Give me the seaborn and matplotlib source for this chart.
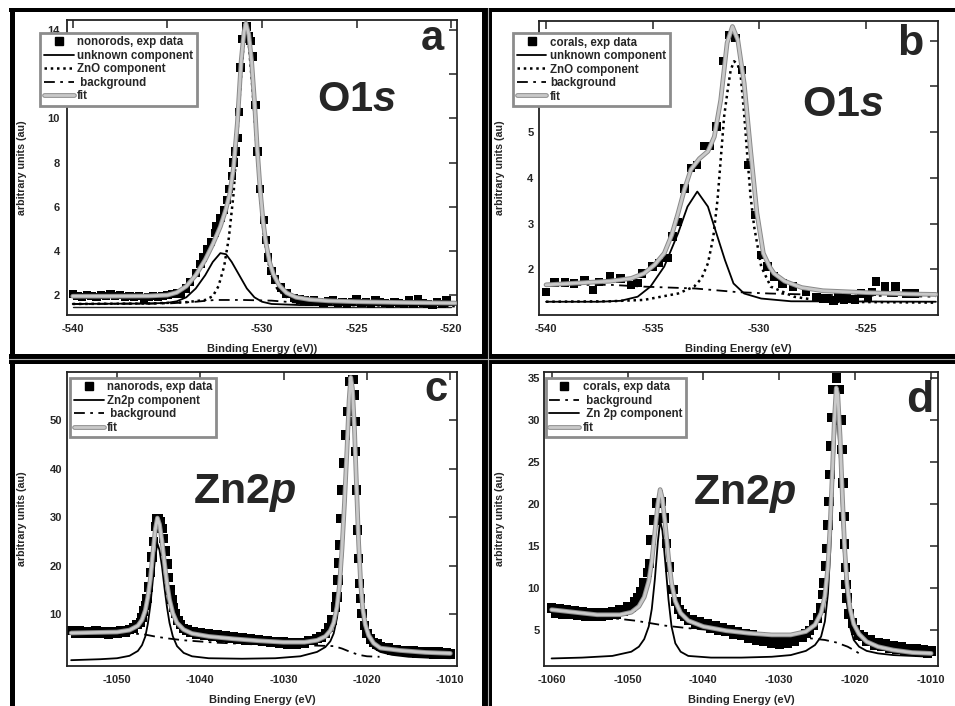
import matplotlib
matplotlib.use("Agg")
import matplotlib.pyplot as plt
from matplotlib.lines import Line2D
import matplotlib.patheffects as pe
import seaborn as sns

# ---------------- DATA ----------------
# Panel a: O1s, nanorods
a_exp = [(-540.0, 2.05), (-539.75, 1.95), (-539.5, 1.9), (-539.25, 2.0), (-539.0, 1.95), (-538.75, 1.9),
         (-538.5, 2.0), (-538.25, 1.95), (-538.0, 2.05), (-537.75, 1.95), (-537.5, 2.0), (-537.25, 1.9),
         (-537.0, 1.95), (-536.75, 1.9), (-536.5, 1.95), (-536.25, 1.85), (-536.0, 1.9), (-535.75, 1.95),
         (-535.5, 1.9), (-535.25, 1.95), (-535.0, 2.0), (-534.75, 2.05), (-534.5, 2.1), (-534.3, 2.08),
         (-534.0, 2.3), (-533.8, 2.6), (-533.5, 3.0), (-533.25, 3.4), (-533.1, 3.7), (-532.9, 4.1),
         (-532.7, 4.4), (-532.5, 4.8), (-532.4, 5.1), (-532.2, 5.5), (-532.0, 5.85), (-531.85, 6.3),
         (-531.75, 6.8), (-531.6, 7.4), (-531.5, 8.0), (-531.4, 8.5), (-531.28, 9.1), (-531.2, 10.3),
         (-531.14, 12.3), (-531.05, 13.6), (-530.82, 14.15), (-530.7, 13.7), (-530.6, 13.5), (-530.47, 12.8),
         (-530.35, 10.6), (-530.23, 8.5), (-530.1, 6.8), (-529.9, 5.4), (-529.8, 4.5), (-529.7, 3.7),
         (-529.5, 3.1), (-529.3, 2.7), (-529.0, 2.35), (-528.7, 2.08), (-528.3, 1.88), (-528.0, 1.8),
         (-527.75, 1.75), (-527.5, 1.7), (-527.25, 1.75), (-527.0, 1.7), (-526.75, 1.65), (-526.5, 1.72),
         (-526.25, 1.78), (-526.0, 1.65), (-525.75, 1.7), (-525.5, 1.6), (-525.25, 1.7), (-525.0, 1.8),
         (-524.75, 1.65), (-524.5, 1.7), (-524.25, 1.6), (-524.0, 1.75), (-523.75, 1.7), (-523.5, 1.65),
         (-523.25, 1.6), (-523.0, 1.7), (-522.75, 1.65), (-522.5, 1.6), (-522.25, 1.75), (-522.0, 1.6),
         (-521.75, 1.8), (-521.5, 1.65), (-521.25, 1.6), (-521.0, 1.55), (-520.75, 1.7), (-520.5, 1.6),
         (-520.25, 1.75)]
a_unknown = [(-540.0, 1.6), (-536.0, 1.62), (-535.0, 1.65), (-534.5, 1.72), (-534.0, 1.9), (-533.5, 2.3),
             (-533.0, 2.9), (-532.6, 3.5), (-532.2, 3.9), (-531.9, 3.85), (-531.6, 3.5), (-531.2, 2.9),
             (-530.8, 2.3), (-530.4, 1.9), (-530.0, 1.7), (-529.5, 1.6), (-528.0, 1.55), (-519.8, 1.55)]
a_zno = [(-540.0, 1.6), (-536.0, 1.62), (-534.0, 1.68), (-533.0, 1.78), (-532.6, 1.95), (-532.3, 2.4),
         (-532.0, 3.3), (-531.75, 4.6), (-531.5, 6.6), (-531.3, 9.3), (-531.1, 12.0), (-530.95, 13.6),
         (-530.85, 14.1), (-530.7, 13.4), (-530.5, 11.3), (-530.3, 8.9), (-530.1, 6.5), (-529.9, 4.7),
         (-529.7, 3.6), (-529.5, 2.9), (-529.2, 2.3), (-528.8, 1.95), (-528.3, 1.75), (-527.5, 1.62),
         (-526.0, 1.55), (-519.8, 1.5)]
a_background = [(-540.0, 1.6), (-535.0, 1.62), (-533.5, 1.7), (-532.5, 1.78), (-531.0, 1.78),
                (-529.5, 1.75), (-528.0, 1.65), (-525.0, 1.6), (-519.8, 1.6)]
a_fit = [(-540.0, 1.95), (-538.0, 1.95), (-536.0, 1.96), (-535.0, 2.0), (-534.5, 2.12), (-534.0, 2.4),
         (-533.5, 2.9), (-533.0, 3.6), (-532.6, 4.3), (-532.2, 5.1), (-531.9, 5.9), (-531.7, 6.6),
         (-531.5, 7.8), (-531.3, 9.8), (-531.1, 12.6), (-530.95, 13.9), (-530.85, 14.3), (-530.7, 13.8),
         (-530.55, 12.6), (-530.4, 10.8), (-530.25, 8.6), (-530.1, 6.8), (-529.95, 5.4), (-529.8, 4.4),
         (-529.6, 3.5), (-529.4, 2.95), (-529.1, 2.45), (-528.7, 2.1), (-528.2, 1.9), (-527.5, 1.8),
         (-526.5, 1.74), (-525.0, 1.7), (-523.0, 1.67), (-521.0, 1.65), (-519.8, 1.64)]

# Panel b: O1s, corals
b_exp = [(-540.0, 1.51), (-539.6, 1.71), (-539.1, 1.71), (-538.7, 1.69), (-538.2, 1.77), (-537.8, 1.55),
         (-537.5, 1.72), (-537.0, 1.84), (-536.5, 1.80), (-536.0, 1.66), (-535.7, 1.7), (-535.5, 1.91),
         (-535.0, 2.06), (-534.7, 2.13), (-534.3, 2.24), (-534.06, 2.72), (-533.8, 3.04), (-533.5, 3.77),
         (-533.2, 4.21), (-532.9, 4.28), (-532.6, 4.69), (-532.3, 4.69), (-532.0, 5.12), (-531.7, 6.55),
         (-531.4, 7.13), (-531.1, 7.06), (-530.8, 6.36), (-530.5, 4.28), (-530.2, 3.19), (-529.9, 2.31),
         (-529.6, 2.06), (-529.3, 1.84), (-528.9, 1.69), (-528.4, 1.62), (-527.8, 1.51), (-527.3, 1.40),
         (-527.0, 1.36), (-526.8, 1.36), (-526.5, 1.32), (-526.3, 1.40), (-526.0, 1.33), (-525.9, 1.36),
         (-525.5, 1.34), (-525.2, 1.47), (-524.9, 1.38), (-524.7, 1.51), (-524.5, 1.73), (-524.1, 1.62),
         (-523.6, 1.62), (-523.1, 1.47), (-522.7, 1.47)]
b_unknown = [(-540.0, 1.29), (-537.5, 1.29), (-536.5, 1.31), (-535.7, 1.40), (-535.1, 1.62), (-534.45, 2.06),
             (-533.8, 2.79), (-533.36, 3.37), (-532.9, 3.70), (-532.4, 3.37), (-532.1, 2.93), (-531.6, 2.2),
             (-531.2, 1.69), (-530.7, 1.47), (-529.9, 1.36), (-528.5, 1.3), (-521.7, 1.29)]
b_zno = [(-540.0, 1.29), (-537.0, 1.3), (-535.4, 1.33), (-533.8, 1.47), (-533.05, 1.62), (-532.7, 1.8),
         (-532.4, 2.13), (-532.15, 2.7), (-531.95, 3.52), (-531.8, 4.4), (-531.64, 5.34), (-531.45, 6.0),
         (-531.33, 6.36), (-531.17, 6.55), (-531.0, 6.48), (-530.86, 6.22), (-530.7, 5.4), (-530.55, 4.47),
         (-530.4, 3.6), (-530.23, 2.93), (-529.9, 2.06), (-529.45, 1.62), (-528.36, 1.40), (-526.8, 1.29),
         (-521.7, 1.27)]
b_background = [(-540.0, 1.66), (-537.0, 1.66), (-535.4, 1.62), (-533.0, 1.58), (-531.0, 1.5),
                (-529.5, 1.47), (-527.0, 1.44), (-521.7, 1.4)]
b_fit = [(-540.0, 1.66), (-538.5, 1.7), (-537.0, 1.74), (-536.0, 1.8), (-535.4, 1.91), (-534.9, 2.1),
         (-534.45, 2.35), (-534.1, 2.75), (-533.8, 3.23), (-533.5, 3.75), (-533.2, 4.18), (-532.8, 4.42),
         (-532.4, 4.58), (-532.1, 4.9), (-531.8, 5.7), (-531.5, 6.95), (-531.25, 7.31), (-531.0, 7.02),
         (-530.7, 6.07), (-530.4, 4.61), (-530.1, 3.23), (-529.8, 2.35), (-529.5, 2.05), (-529.3, 1.91),
         (-528.8, 1.74), (-528.0, 1.6), (-527.0, 1.53), (-525.0, 1.49), (-523.0, 1.46), (-521.7, 1.45)]

# Panel c: Zn2p, nanorods
c_exp = [(-1055.5, 6.6), (-1055.0, 6.1), (-1054.5, 6.5), (-1054.0, 6.0), (-1053.5, 6.4), (-1053.0, 6.0),
         (-1052.5, 6.5), (-1052.0, 6.1), (-1051.5, 6.4), (-1051.0, 5.9), (-1050.5, 6.4), (-1050.0, 6.0),
         (-1049.5, 6.5), (-1049.0, 6.2), (-1048.5, 6.8), (-1048.0, 7.1), (-1047.6, 7.8), (-1047.2, 8.3),
         (-1047.0, 9.3), (-1046.8, 10.6), (-1046.6, 11.8), (-1046.4, 13.2), (-1046.2, 15.6), (-1046.0, 18.6),
         (-1045.8, 21.8), (-1045.6, 25.0), (-1045.4, 28.0), (-1045.2, 29.6), (-1045.0, 29.6), (-1044.8, 29.0),
         (-1044.6, 27.6), (-1044.4, 25.6), (-1044.2, 23.0), (-1044.0, 20.3), (-1043.8, 17.5), (-1043.6, 15.0),
         (-1043.4, 13.0), (-1043.2, 11.4), (-1043.0, 10.1), (-1042.7, 8.7), (-1042.4, 7.9), (-1042.0, 7.0),
         (-1041.6, 6.7), (-1041.2, 6.2), (-1040.8, 6.4), (-1040.4, 5.9), (-1040.0, 6.2), (-1039.5, 5.7),
         (-1039.0, 6.0), (-1038.5, 5.5), (-1038.0, 5.8), (-1037.5, 5.3), (-1037.0, 5.6), (-1036.5, 5.1),
         (-1036.0, 5.4), (-1035.5, 4.9), (-1035.0, 5.2), (-1034.5, 4.7), (-1034.0, 5.0), (-1033.5, 4.5),
         (-1033.0, 4.8), (-1032.5, 4.3), (-1032.0, 4.6), (-1031.5, 4.1), (-1031.0, 4.4), (-1030.5, 3.9),
         (-1030.0, 4.3), (-1029.5, 3.8), (-1029.0, 4.2), (-1028.5, 3.8), (-1028.0, 4.2), (-1027.5, 4.0),
         (-1027.0, 4.5), (-1026.5, 4.5), (-1026.0, 5.0), (-1025.5, 5.3), (-1025.0, 6.0), (-1024.6, 7.2),
         (-1024.2, 8.8), (-1023.8, 11.5), (-1023.6, 13.5), (-1023.5, 17.0), (-1023.4, 20.5), (-1023.3, 24.2),
         (-1023.15, 29.7), (-1023.0, 35.6), (-1022.8, 41.1), (-1022.55, 46.9), (-1022.35, 51.7), (-1022.1, 58.0),
         (-1021.7, 58.3), (-1021.55, 55.2), (-1021.45, 49.7), (-1021.35, 43.5), (-1021.25, 35.6), (-1021.15, 27.3),
         (-1021.05, 21.5), (-1020.9, 16.3), (-1020.8, 13.2), (-1020.6, 10.1), (-1020.3, 7.6), (-1020.0, 6.0),
         (-1019.6, 4.9), (-1019.2, 4.1), (-1018.8, 3.8), (-1018.4, 3.3), (-1018.0, 3.1), (-1017.5, 3.0),
         (-1017.0, 2.6), (-1016.5, 2.7), (-1016.0, 2.3), (-1015.5, 2.5), (-1015.0, 2.1), (-1014.5, 2.4),
         (-1014.0, 2.0), (-1013.5, 2.3), (-1013.0, 1.9), (-1012.5, 2.2), (-1012.0, 1.8), (-1011.5, 2.2),
         (-1011.0, 1.8), (-1010.5, 2.1), (-1010.0, 1.8)]
c_zn2p = [(-1055.5, 0.5), (-1052.0, 0.7), (-1050.0, 0.9), (-1048.5, 1.4), (-1047.5, 2.4), (-1047.0, 3.6),
          (-1046.6, 5.4), (-1046.3, 8.0), (-1046.0, 11.8), (-1045.7, 17.0), (-1045.4, 22.0), (-1045.15, 24.5),
          (-1044.9, 23.2), (-1044.6, 19.8), (-1044.3, 15.4), (-1044.0, 11.4), (-1043.7, 8.2), (-1043.3, 5.4),
          (-1042.8, 3.4), (-1042.0, 2.0), (-1041.0, 1.3), (-1039.0, 0.9), (-1035.0, 0.8), (-1031.0, 0.9),
          (-1028.0, 1.3), (-1026.0, 2.2), (-1025.0, 3.2), (-1024.4, 4.4), (-1024.0, 6.0), (-1023.6, 9.2),
          (-1023.3, 13.6), (-1023.0, 21.0), (-1022.7, 30.5), (-1022.4, 41.5), (-1022.15, 51.5), (-1021.95, 56.3),
          (-1021.75, 54.0), (-1021.5, 45.5), (-1021.25, 33.5), (-1021.0, 22.0), (-1020.75, 13.6), (-1020.5, 8.8),
          (-1020.2, 6.0), (-1019.8, 4.2), (-1019.2, 3.0), (-1018.4, 2.2), (-1017.0, 1.6), (-1015.0, 1.2),
          (-1012.5, 1.0), (-1010.0, 0.9)]
c_background = [(-1055.5, 6.0), (-1050.0, 6.0), (-1047.0, 5.9), (-1045.5, 5.4), (-1044.0, 5.0),
                (-1042.0, 4.6), (-1038.0, 4.1), (-1034.0, 3.8), (-1030.0, 3.6), (-1026.0, 3.5),
                (-1024.0, 3.4), (-1023.0, 2.9), (-1022.0, 2.2), (-1021.0, 1.6), (-1020.0, 1.3), (-1018.5, 1.2)]
c_fit = [(-1055.5, 6.1), (-1053.0, 6.2), (-1050.0, 6.3), (-1048.5, 6.7), (-1047.5, 7.6), (-1047.0, 8.8),
         (-1046.6, 10.8), (-1046.3, 13.5), (-1046.0, 17.2), (-1045.7, 22.5), (-1045.4, 27.5), (-1045.15, 29.8),
         (-1044.9, 28.5), (-1044.6, 25.0), (-1044.3, 20.5), (-1044.0, 16.3), (-1043.7, 13.0), (-1043.3, 10.2),
         (-1042.8, 8.2), (-1042.0, 6.8), (-1041.0, 6.0), (-1039.0, 5.4), (-1036.0, 4.9), (-1033.0, 4.5),
         (-1030.0, 4.2), (-1027.5, 4.2), (-1026.0, 4.6), (-1025.0, 5.4), (-1024.4, 6.6), (-1024.0, 8.2),
         (-1023.6, 11.5), (-1023.3, 16.0), (-1023.0, 23.5), (-1022.7, 33.0), (-1022.4, 44.0), (-1022.15, 54.0),
         (-1021.95, 58.8), (-1021.75, 56.5), (-1021.5, 48.0), (-1021.25, 36.0), (-1021.0, 24.5), (-1020.75, 16.0),
         (-1020.5, 11.0), (-1020.2, 7.8), (-1019.8, 5.6), (-1019.2, 4.0), (-1018.4, 3.0), (-1016.0, 2.5),
         (-1013.0, 2.1), (-1010.0, 1.9)]

# Panel d: Zn2p, corals
d_exp = [(-1060.0, 7.6), (-1059.5, 7.0), (-1059.0, 7.5), (-1058.5, 6.9), (-1058.0, 7.4), (-1057.5, 6.8),
         (-1057.0, 7.3), (-1056.5, 6.7), (-1056.0, 7.2), (-1055.5, 6.6), (-1055.0, 7.1), (-1054.5, 6.6),
         (-1054.0, 7.1), (-1053.5, 6.6), (-1053.0, 7.1), (-1052.5, 6.7), (-1052.0, 7.2), (-1051.5, 6.9),
         (-1051.0, 7.4), (-1050.5, 7.2), (-1050.0, 7.7), (-1049.5, 7.7), (-1049.0, 8.4), (-1048.6, 8.8),
         (-1048.2, 9.6), (-1047.8, 10.6), (-1047.4, 11.8), (-1047.1, 12.9), (-1046.9, 15.7), (-1046.5, 18.1),
         (-1046.1, 20.1), (-1045.5, 20.3), (-1045.2, 18.3), (-1044.9, 15.3), (-1044.5, 12.5), (-1044.0, 9.8),
         (-1043.6, 8.4), (-1043.2, 7.4), (-1042.8, 6.9), (-1042.4, 6.6), (-1042.0, 6.2), (-1041.5, 6.2),
         (-1041.0, 5.7), (-1040.5, 6.0), (-1040.0, 5.5), (-1039.5, 5.7), (-1039.0, 5.2), (-1038.5, 5.5),
         (-1038.0, 5.0), (-1037.5, 5.3), (-1037.0, 4.8), (-1036.5, 5.0), (-1036.0, 4.5), (-1035.5, 4.8),
         (-1035.0, 4.3), (-1034.5, 4.6), (-1034.0, 4.0), (-1033.5, 4.4), (-1033.0, 3.8), (-1032.5, 4.2),
         (-1032.0, 3.6), (-1031.5, 4.0), (-1031.0, 3.4), (-1030.5, 3.9), (-1030.0, 3.3), (-1029.5, 3.8),
         (-1029.0, 3.4), (-1028.5, 3.9), (-1028.0, 3.6), (-1027.5, 4.1), (-1027.0, 4.1), (-1026.5, 4.6),
         (-1026.0, 4.9), (-1025.5, 5.6), (-1025.0, 6.4), (-1024.6, 7.6), (-1024.3, 9.2), (-1024.1, 10.6),
         (-1023.9, 12.6), (-1023.75, 14.7), (-1023.6, 17.5), (-1023.45, 20.3), (-1023.35, 23.5), (-1023.25, 26.9),
         (-1023.1, 30.3), (-1022.95, 33.6), (-1022.5, 35.0), (-1022.1, 33.6), (-1021.9, 30.0), (-1021.75, 26.5),
         (-1021.6, 22.5), (-1021.5, 18.5), (-1021.4, 15.2), (-1021.3, 12.4), (-1021.2, 10.4), (-1021.1, 8.8),
         (-1020.8, 6.9), (-1020.4, 5.8), (-1020.0, 5.0), (-1019.5, 4.4), (-1019.0, 4.2), (-1018.5, 3.6),
         (-1018.0, 3.8), (-1017.5, 3.2), (-1017.0, 3.5), (-1016.5, 3.0), (-1016.0, 3.3), (-1015.5, 2.8),
         (-1015.0, 3.1), (-1014.5, 2.7), (-1014.0, 3.0), (-1013.5, 2.6), (-1013.0, 2.8), (-1012.5, 2.4),
         (-1012.0, 2.7), (-1011.5, 2.3), (-1011.0, 2.6), (-1010.5, 2.2), (-1010.0, 2.5)]
d_background = [(-1060.0, 7.2), (-1056.0, 6.8), (-1052.0, 6.4), (-1049.0, 6.1), (-1047.0, 5.8),
                (-1045.0, 5.5), (-1042.0, 5.2), (-1038.0, 4.9), (-1034.0, 4.6), (-1030.0, 4.3),
                (-1026.0, 4.0), (-1024.0, 3.8), (-1022.5, 3.5), (-1021.0, 3.0), (-1020.0, 2.5), (-1019.5, 2.2)]
d_zn2p = [(-1060.0, 1.6), (-1056.0, 1.7), (-1052.0, 1.9), (-1049.5, 2.4), (-1048.5, 3.0), (-1047.8, 3.9),
          (-1047.2, 5.4), (-1046.8, 7.5), (-1046.4, 11.0), (-1046.0, 15.5), (-1045.7, 18.0), (-1045.4, 16.8),
          (-1045.0, 12.8), (-1044.6, 8.6), (-1044.2, 5.4), (-1043.7, 3.4), (-1043.0, 2.4), (-1042.0, 1.9),
          (-1039.0, 1.7), (-1035.0, 1.7), (-1031.0, 1.8), (-1028.5, 2.0), (-1026.5, 2.5), (-1025.3, 3.2),
          (-1024.5, 4.2), (-1024.0, 6.0), (-1023.6, 9.3), (-1023.3, 14.2), (-1023.0, 20.6), (-1022.75, 26.6),
          (-1022.5, 30.5), (-1022.3, 29.8), (-1022.0, 25.0), (-1021.7, 18.2), (-1021.4, 12.2), (-1021.1, 8.2),
          (-1020.7, 5.4), (-1020.2, 3.8), (-1019.5, 3.0), (-1018.5, 2.5), (-1017.0, 2.2), (-1015.0, 2.0),
          (-1012.5, 1.9), (-1010.0, 1.8)]
d_fit = [(-1060.0, 7.4), (-1057.0, 7.1), (-1054.0, 6.8), (-1051.0, 6.8), (-1049.5, 7.1), (-1048.5, 7.8),
         (-1047.8, 8.9), (-1047.2, 10.8), (-1046.8, 13.2), (-1046.4, 16.6), (-1046.0, 20.0), (-1045.7, 21.7),
         (-1045.4, 20.6), (-1045.0, 17.3), (-1044.6, 13.6), (-1044.2, 10.6), (-1043.7, 8.4), (-1043.0, 7.0),
         (-1042.0, 6.1), (-1040.0, 5.4), (-1037.0, 4.9), (-1034.0, 4.6), (-1031.0, 4.4), (-1028.5, 4.4),
         (-1026.5, 4.8), (-1025.3, 5.6), (-1024.5, 7.0), (-1024.0, 9.0), (-1023.6, 12.5), (-1023.3, 17.5),
         (-1023.0, 24.0), (-1022.75, 30.0), (-1022.5, 33.8), (-1022.3, 33.0), (-1022.0, 28.0), (-1021.7, 21.0),
         (-1021.4, 14.8), (-1021.1, 10.6), (-1020.7, 7.6), (-1020.2, 5.7), (-1019.5, 4.5), (-1018.5, 3.6),
         (-1017.0, 3.0), (-1015.0, 2.6), (-1012.5, 2.3), (-1010.0, 2.2)]

# Tick values / labels
a_xticks = [-540, -535, -530, -525, -520]
a_yticks = [2, 4, 6, 8, 10, 12, 14]
b_xticks = [-540, -535, -530, -525]
b_yticks = [2, 3, 4, 5, 6, 7]
c_xticks = [-1050, -1040, -1030, -1020, -1010]
c_yticks = [10, 20, 30, 40, 50]
d_xticks = [-1060, -1050, -1040, -1030, -1020, -1010]
d_yticks = [5, 10, 15, 20, 25, 30, 35]

# Legend labels
a_labels = ["nonorods, exp data", "unknown component", "ZnO component", " background", "fit"]
b_labels = ["corals, exp data", "unknown component", "ZnO component", "background", "fit"]
c_labels = ["nanorods, exp data", "Zn2p component", " background", "fit"]
d_labels = ["corals, exp data", " background", " Zn 2p component", "fit"]

x_label_a = "Binding Energy (eV))"
x_label = "Binding Energy (eV)"
y_label = "arbitrary units (au)"

# ---------------- STYLE ----------------
sns.set_style("white")
plt.rcParams['font.family'] = ['Liberation Sans', 'DejaVu Sans']
plt.rcParams['font.weight'] = 'bold'
plt.rcParams['mathtext.fontset'] = 'custom'
plt.rcParams['mathtext.rm'] = 'Liberation Sans:bold'
plt.rcParams['mathtext.it'] = 'Liberation Sans:italic:bold'
plt.rcParams['mathtext.bf'] = 'Liberation Sans:bold'

W, H = 955, 706
fig = plt.figure(figsize=(W / 100, H / 100), dpi=100)
fig.patch.set_facecolor('white')


def rect(l, t, r, b):
    return [l / W, 1 - b / H, (r - l) / W, (b - t) / H]


STY = {
    'solid': dict(color='black', linewidth=1.3, linestyle='-'),
    'dot': dict(color='black', linewidth=1.8, linestyle=(0, (1.0, 1.5))),
    'dashdot': dict(color='black', linewidth=1.3, linestyle=(0, (6, 3, 1.5, 3))),
}
FIT_PE = [pe.Stroke(linewidth=3.4, foreground='#8a8a8a'), pe.Normal()]
FIT_STY = dict(color='#c9c9c9', linewidth=2.0)


def xy(pts):
    return [p[0] for p in pts], [p[1] for p in pts]


def draw(ax, exp, comps, fit, msize):
    ex, ey = xy(exp)
    sns.scatterplot(x=ex, y=ey, ax=ax, marker='s', s=msize, color='black',
                    edgecolor='none', linewidth=0, legend=False, zorder=2)
    for pts, key in comps:
        x, y = xy(pts)
        sns.lineplot(x=x, y=y, ax=ax, sort=False, estimator=None, legend=False,
                     zorder=3, **STY[key])
    x, y = xy(fit)
    sns.lineplot(x=x, y=y, ax=ax, sort=False, estimator=None, legend=False,
                 zorder=4, path_effects=FIT_PE, **FIT_STY)


def style_axes(ax, xlim, ylim, xticks, yticks, xlabel, ypad):
    ax.set_xlim(*xlim)
    ax.set_ylim(*ylim)
    ax.set_xticks(xticks)
    ax.set_xticklabels([str(t) for t in xticks])
    ax.set_yticks(yticks)
    ax.set_yticklabels([str(t) for t in yticks])
    ax.tick_params(direction='in', top=True, right=True, length=6, width=1.1,
                   color='#222222', labelsize=8)
    ax.tick_params(axis='x', pad=6.5)
    ax.tick_params(axis='y', pad=ypad)
    for s in ax.spines.values():
        s.set_linewidth(1.3)
        s.set_color('#222222')
    for lab in ax.get_xticklabels() + ax.get_yticklabels():
        lab.set_fontweight('bold')
    ax.set_xlabel(xlabel, fontsize=8, fontweight='bold')
    ax.set_ylabel(y_label, fontsize=7.7, fontweight='bold')
    ax.xaxis.set_label_coords(0.5, -0.098)


def handle(key):
    if key == 'exp':
        return Line2D([], [], marker='s', markersize=6, color='black', linestyle='none')
    if key == 'fit':
        return Line2D([], [], path_effects=FIT_PE, **FIT_STY)
    return Line2D([], [], **STY[key])


def legend(ax, keys, labels, anchor):
    hs = [handle(k) for k in keys]
    leg = ax.legend(hs, labels, loc='upper left', bbox_to_anchor=anchor, borderaxespad=0,
                    frameon=True, fancybox=False, edgecolor='#8c8c8c', framealpha=1,
                    prop=dict(weight='bold', size=8.3), handlelength=2.6, handletextpad=0.3,
                    labelspacing=0.13, borderpad=0.3)
    leg.get_frame().set_linewidth(2.0)
    leg.set_zorder(10)


# ---------- panel a ----------
axa = fig.add_axes(rect(67, 20, 457, 315))
draw(axa, a_exp, [(a_background, 'dashdot'), (a_unknown, 'solid'), (a_zno, 'dot')], a_fit, 36)
style_axes(axa, (-540.3, -519.7), (1.1, 14.45), a_xticks, a_yticks, x_label_a, 5)
axa.axhline(1.46, xmin=0.015, xmax=0.985, color='#222222', linewidth=1.0, zorder=1)
axa.yaxis.set_label_coords(-0.103, 0.5)
legend(axa, ['exp', 'solid', 'dot', 'dashdot', 'fit'], a_labels, (-0.069, 0.956))

# ---------- panel b ----------
axb = fig.add_axes(rect(539, 21, 938, 315))
draw(axb, b_exp, [(b_background, 'dashdot'), (b_unknown, 'solid'), (b_zno, 'dot')], b_fit, 36)
style_axes(axb, (-540.33, -521.6), (1.0, 7.43), b_xticks, b_yticks, x_label, 4)
axb.yaxis.set_label_coords(-0.085, 0.5)
legend(axb, ['exp', 'solid', 'dot', 'dashdot', 'fit'], b_labels, (-0.065, 0.959))

# ---------- panel c ----------
axc = fig.add_axes(rect(67, 372, 457, 666))
draw(axc, c_exp, [(c_background, 'dashdot'), (c_zn2p, 'solid')], c_fit, 46)
style_axes(axc, (-1056.0, -1009.2), (-0.7, 59.9), c_xticks, c_yticks, x_label, 3.6)
axc.yaxis.set_label_coords(-0.103, 0.5)
legend(axc, ['exp', 'solid', 'dashdot', 'fit'], c_labels, (0.008, 0.98))

# ---------- panel d ----------
axd = fig.add_axes(rect(544, 372, 938, 666))
draw(axd, d_exp, [(d_background, 'dashdot'), (d_zn2p, 'solid')], d_fit, 46)
style_axes(axd, (-1061.0, -1009.1), (0.7, 35.7), d_xticks, d_yticks, x_label, 3)
axd.yaxis.set_label_coords(-0.099, 0.5)
legend(axd, ['exp', 'dashdot', 'solid', 'fit'], d_labels, (0.005, 0.98))


# ---------- annotations ----------
def ftext(x, y, s, size, **kw):
    fig.text(x / W, 1 - y / H, s, fontsize=size, fontweight='bold', ha='center',
             va='baseline', **kw)


ftext(432, 50, "a", 30)
ftext(910, 55, "b", 31)
ftext(436, 401, "c", 30)
ftext(920, 412, "d", 32)
ftext(357, 111, r"O$\mathit{1s}$", 30)
ftext(843, 116, r"O$\mathit{1s}$", 31)
ftext(245, 503, r"Zn2$\mathit{p}$", 31)
ftext(745, 504, r"Zn2$\mathit{p}$", 31)

# ---------- figure frame / dividers ----------
PT = 0.72  # px -> pt at 100 dpi
frame = [
    ([9 / W, 1.0], [1 - 10 / H, 1 - 10 / H], 4),
    ([12 / W, 12 / W], [1 - 8 / H, 0.0], 5),
    ([487 / W, 487 / W], [1 - 8 / H, 0.0], 10),
    ([9 / W, 1.0], [1 - 359 / H, 1 - 359 / H], 10),
]
for xs, ys, w in frame:
    fig.add_artist(Line2D(xs, ys, transform=fig.transFigure, color='black',
                          linewidth=w * PT, solid_capstyle='butt', zorder=20))
fig.add_artist(Line2D([488 / W, 488 / W], [1 - 8 / H, 0.0], transform=fig.transFigure,
                      color='#b0b0b0', linewidth=0.8, zorder=21))
fig.add_artist(Line2D([9 / W, 1.0], [1 - 358.5 / H, 1 - 358.5 / H], transform=fig.transFigure,
                      color='#b0b0b0', linewidth=0.8, zorder=21))

fig.savefig("out.png", dpi=100, facecolor='white')
